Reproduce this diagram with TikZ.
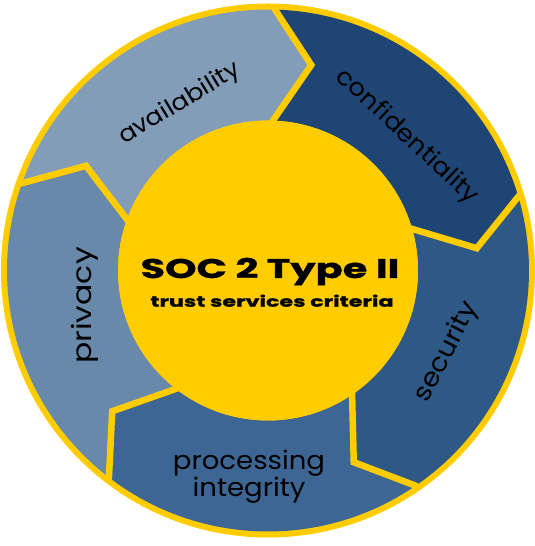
\documentclass[tikz,border=0pt]{standalone}
\usepackage{fontspec}
\newfontfamily\labelfont{Poppins}[FakeStretch=1.08]
\newfontfamily\centerfont{Poppins}[FakeStretch=1.48, BoldFeatures={FakeBold=1.2}]
\definecolor{ringyellow}{RGB}{255,204,0}
\definecolor{availc}{RGB}{131,157,185}
\definecolor{confc}{RGB}{30,69,115}
\definecolor{secc}{RGB}{46,88,133}
\definecolor{procc}{RGB}{62,102,148}
\definecolor{privc}{RGB}{104,137,170}
\newcommand{\ringseg}[3]{%
  \fill[#3] (#1:261pt) arc[start angle=#1, end angle=#2, radius=261pt]
    -- ({#2-10.5}:210pt) -- (#2:150pt)
    arc[start angle=#2, end angle=#1, radius=150pt]
    -- ({#1-10.5}:210pt) -- cycle;}
\newcommand{\ringsep}[1]{%
  \draw[ringyellow, line width=6.5pt, line cap=round, line join=miter]
    (#1:262pt) -- ({#1-10.5}:210pt) -- (#1:148pt);}
\newcommand{\lblsize}[1]{\labelfont\fontsize{#1}{24.5}\selectfont}
\tikzset{
  lbl/.style={text=black, inner sep=0pt, align=center},
}
\begin{document}
\begin{tikzpicture}[x=1pt,y=1pt]
\useasboundingbox (0,0) rectangle (535,546);
\fill[white] (0,0) rectangle (535,546);
\begin{scope}[shift={(268,275.5)}]
  \fill[ringyellow] (0,0) circle[radius=267pt];
  \ringseg{160.6}{88.6}{availc}
  \ringseg{88.6}{16.6}{confc}
  \ringseg{16.6}{-55.4}{secc}
  \ringseg{-55.4}{-127.4}{procc}
  \ringseg{-127.4}{-199.4}{privc}
  \ringsep{88.6}
  \ringsep{16.6}
  \ringsep{-55.4}
  \ringsep{-127.4}
  \ringsep{160.6}
  \fill[ringyellow] (0,0) circle[radius=150pt];
\end{scope}
\node[lbl, rotate=31, font=\lblsize{23.5}] (avail) at (180,442) {availability};
\node[lbl, rotate=-43, font=\lblsize{24.2}] (conf) at (407,409) {confidentiality};
\node[lbl, rotate=63, font=\lblsize{25.8}] (sec) at (447,194) {security};
\node[lbl, font=\lblsize{25.5}] (proc) at (249,69) {processing\\integrity};
\node[lbl, rotate=90, font=\lblsize{26.5}] (priv) at (85,240.5) {\scalebox{1.1}[1]{privacy}};
\node[font=\centerfont\bfseries\fontsize{27}{28}\selectfont, anchor=base, inner sep=0pt] (title) at (270,268) {SOC 2 Type II};
\node[font=\centerfont\bfseries\fontsize{15}{16}\selectfont, anchor=base, inner sep=0pt] (sub) at (272,239.3) {trust services criteria};
\end{tikzpicture}
\end{document}
